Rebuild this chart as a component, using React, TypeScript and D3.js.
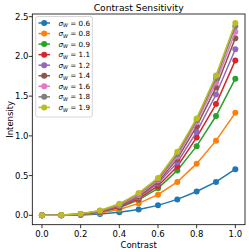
import React from "react";
import * as d3 from "d3";

const contrast = [0, 0.1, 0.2, 0.3, 0.4, 0.5, 0.6, 0.7, 0.8, 0.9, 1.0];
const sigmaLabels = ["0.6", "0.8", "0.9", "1.1", "1.2", "1.4", "1.6", "1.8", "1.9"];
const s06 = [0, 0.0006, 0.005, 0.015, 0.037, 0.073, 0.125, 0.2, 0.3, 0.42, 0.58];
const s08 = [0, 0.001, 0.009, 0.03, 0.072, 0.15, 0.26, 0.42, 0.65, 0.94, 1.29];
const s09 = [0, 0.002, 0.011, 0.04, 0.095, 0.195, 0.34, 0.565, 0.87, 1.25, 1.72];
const s11 = [0, 0.002, 0.013, 0.044, 0.105, 0.21, 0.37, 0.615, 0.98, 1.4, 1.95];
const s12 = [0, 0.002, 0.014, 0.047, 0.113, 0.225, 0.4, 0.665, 1.05, 1.52, 2.09];
const s14 = [0, 0.002, 0.015, 0.05, 0.12, 0.24, 0.42, 0.71, 1.12, 1.61, 2.23];
const s16 = [0, 0.002, 0.016, 0.054, 0.128, 0.255, 0.44, 0.74, 1.17, 1.67, 2.31];
const s18 = [0, 0.003, 0.017, 0.057, 0.137, 0.27, 0.455, 0.77, 1.2, 1.72, 2.38];
const s19 = [0, 0.003, 0.018, 0.06, 0.145, 0.28, 0.47, 0.8, 1.22, 1.76, 2.42];
const seriesValues = [s06, s08, s09, s11, s12, s14, s16, s18, s19];
const colors = ["#1f77b4", "#ff7f0e", "#2ca02c", "#d62728", "#9467bd", "#8c564b", "#e377c2", "#7f7f7f", "#bcbd22"];
const xTicks = [0, 0.2, 0.4, 0.6, 0.8, 1.0];
const yTicks = [0, 0.5, 1.0, 1.5, 2.0, 2.5];

export default function App() {
  const W = 249, H = 252;
  const left = 32.3, right = 245, top = 14, bottom = 224.7;
  const x = d3.scaleLinear().domain([-0.05, 1.05]).range([left, right]);
  const y = d3.scaleLinear().domain([0, 2.5]).range([215.3, 16.7]);
  const line = d3.line<number>().x((_, i) => x(contrast[i])).y((d) => y(d));
  const font = "DejaVu Sans";
  return (
    <svg width={W} height={H} style={{ position: "absolute", left: 0, top: 0 }} fontFamily={font}>
      <rect width={W} height={H} fill="white" />
      <text x={(left + right) / 2} y={11} textAnchor="middle" fontSize={9.2} fill="#000">Contrast Sensitivity</text>
      {seriesValues.map((vals, k) => (
        <g key={k}>
          <path d={line(vals) || ""} fill="none" stroke={colors[k]} strokeWidth={1.5} />
          {vals.map((v, i) => (
            <circle key={i} cx={x(contrast[i])} cy={y(v)} r={3} fill={colors[k]} />
          ))}
        </g>
      ))}
      <rect x={left} y={top} width={right - left} height={bottom - top} fill="none" stroke="#000" strokeWidth={0.8} />
      {xTicks.map((t) => (
        <g key={t}>
          <line x1={x(t)} x2={x(t)} y1={bottom} y2={bottom + 3.5} stroke="#000" strokeWidth={0.8} />
          <text x={x(t)} y={236.5} textAnchor="middle" fontSize={8.5}>{t.toFixed(1)}</text>
        </g>
      ))}
      {yTicks.map((t) => (
        <g key={t}>
          <line x1={left - 3.5} x2={left} y1={y(t)} y2={y(t)} stroke="#000" strokeWidth={0.8} />
          <text x={28.5} y={y(t) + 3} textAnchor="end" fontSize={8.5}>{t.toFixed(1)}</text>
        </g>
      ))}
      <text x={(left + right) / 2} y={248} textAnchor="middle" fontSize={8.5}>Contrast</text>
      <text transform={`translate(12.5,${(top + bottom) / 2}) rotate(-90)`} textAnchor="middle" fontSize={8.5}>Intensity</text>
      <g>
        <rect x={35.7} y={16.5} width={56.6} height={100.5} rx={2} fill="white" fillOpacity={0.8} stroke="#ccc" strokeWidth={0.8} />
        {sigmaLabels.map((lab, k) => {
          const ly = 23 + k * 10.55;
          return (
            <g key={lab}>
              <line x1={38.5} x2={50} y1={ly} y2={ly} stroke={colors[k]} strokeWidth={1.5} />
              <circle cx={44.2} cy={ly} r={3} fill={colors[k]} />
              <text x={58.5} y={ly + 2.6} fontSize={7.2}>
                <tspan fontStyle="italic">σ</tspan>
                <tspan fontStyle="italic" fontSize={5} dy={1.5}>W</tspan>
                <tspan dy={-1.5}> = {lab}</tspan>
              </text>
            </g>
          );
        })}
      </g>
    </svg>
  );
}
